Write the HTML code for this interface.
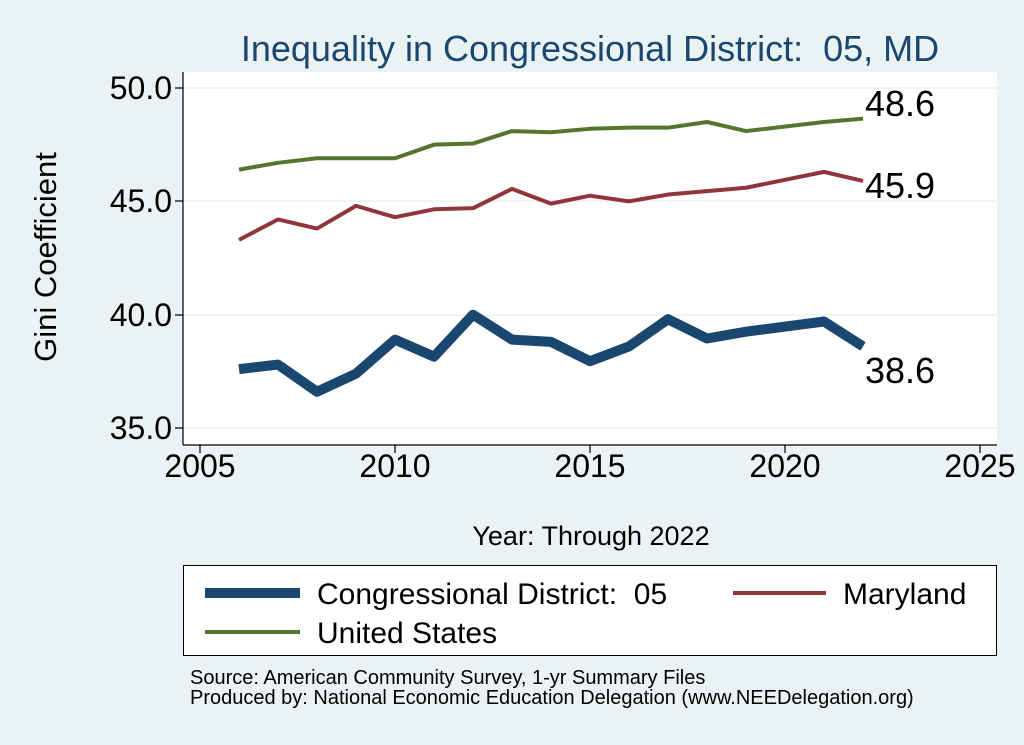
<!DOCTYPE html>
<html><head><meta charset="utf-8"><style>
html,body{margin:0;padding:0;background:#eaf2f3;}
svg{display:block;font-family:"Liberation Sans",sans-serif;}
.pre{white-space:pre;}
</style></head><body>
<svg width="1024" height="745" viewBox="0 0 1024 745" xmlns="http://www.w3.org/2000/svg">
<rect width="1024" height="745" fill="#eaf2f3"/>
<rect x="183" y="72" width="814" height="373" fill="#ffffff"/>
<text class="pre" x="590" y="61" text-anchor="middle" font-size="36" fill="#1a476f">Inequality in Congressional District:  05, MD</text>
<g stroke="#eaf2f3" stroke-width="1.5">
<line x1="183" x2="997" y1="88" y2="88"/><line x1="183" x2="997" y1="201" y2="201"/>
<line x1="183" x2="997" y1="315" y2="315"/><line x1="183" x2="997" y1="428" y2="428"/>
</g>
<g stroke="#000" stroke-width="1.2">
<line x1="183" x2="183" y1="72" y2="445"/><line x1="183" x2="997" y1="445" y2="445"/>
<line x1="175" x2="183" y1="88" y2="88"/><line x1="175" x2="183" y1="201" y2="201"/>
<line x1="175" x2="183" y1="315" y2="315"/><line x1="175" x2="183" y1="428" y2="428"/>
<line x1="200" x2="200" y1="445" y2="453"/><line x1="395" x2="395" y1="445" y2="453"/>
<line x1="590" x2="590" y1="445" y2="453"/><line x1="785" x2="785" y1="445" y2="453"/>
<line x1="980" x2="980" y1="445" y2="453"/>
</g>
<g font-size="32" fill="#000" text-anchor="end">
<text x="172" y="99">50.0</text><text x="172" y="212">45.0</text>
<text x="172" y="326">40.0</text><text x="172" y="439">35.0</text>
</g>
<g font-size="32" fill="#000" text-anchor="middle">
<text x="200" y="477">2005</text><text x="395" y="477">2010</text>
<text x="590" y="477">2015</text><text x="785" y="477">2020</text><text x="980" y="477">2025</text>
</g>
<text x="591" y="545" text-anchor="middle" font-size="27">Year: Through 2022</text>
<text transform="translate(56,257) rotate(-90)" text-anchor="middle" font-size="31">Gini Coefficient</text>
<g fill="none" stroke-linejoin="round" transform="matrix(39 0 0 -22.67 -77995 1221.5)">
<polyline vector-effect="non-scaling-stroke" stroke="#55752f" stroke-width="4" points="2006,46.4 2007,46.7 2008,46.9 2009,46.9 2010,46.9 2011,47.5 2012,47.55 2013,48.1 2014,48.05 2015,48.2 2016,48.25 2017,48.25 2018,48.5 2019,48.1 2021,48.5 2022,48.65"/>
<polyline vector-effect="non-scaling-stroke" stroke="#90353b" stroke-width="4" points="2006,43.3 2007,44.2 2008,43.8 2009,44.8 2010,44.3 2011,44.65 2012,44.7 2013,45.55 2014,44.9 2015,45.25 2016,45.0 2017,45.3 2018,45.45 2019,45.6 2021,46.3 2022,45.9"/>
<polyline vector-effect="non-scaling-stroke" stroke="#1a476f" stroke-width="10" points="2006,37.6 2007,37.8 2008,36.6 2009,37.4 2010,38.9 2011,38.15 2012,40.0 2013,38.9 2014,38.8 2015,37.95 2016,38.6 2017,39.8 2018,38.95 2019,39.25 2021,39.7 2022,38.6"/>
</g>
<g font-size="36" fill="#000">
<text x="865" y="116">48.6</text><text x="865" y="198">45.9</text><text x="865" y="383">38.6</text>
</g>
<rect x="183.5" y="565.5" width="813" height="90" fill="#fff" stroke="#000" stroke-width="1"/>
<line x1="205" x2="300" y1="593" y2="593" stroke="#1a476f" stroke-width="10"/>
<text class="pre" x="317" y="604" font-size="30">Congressional District:  05</text>
<line x1="733" x2="826" y1="593" y2="593" stroke="#90353b" stroke-width="4"/>
<text x="843" y="604" font-size="30">Maryland</text>
<line x1="205" x2="300" y1="632" y2="632" stroke="#55752f" stroke-width="4"/>
<text x="317" y="643" font-size="30">United States</text>
<text x="190" y="684" font-size="20">Source: American Community Survey, 1-yr Summary Files</text>
<text x="190" y="704" font-size="20">Produced by: National Economic Education Delegation (www.NEEDelegation.org)</text>
</svg>
</body></html>
